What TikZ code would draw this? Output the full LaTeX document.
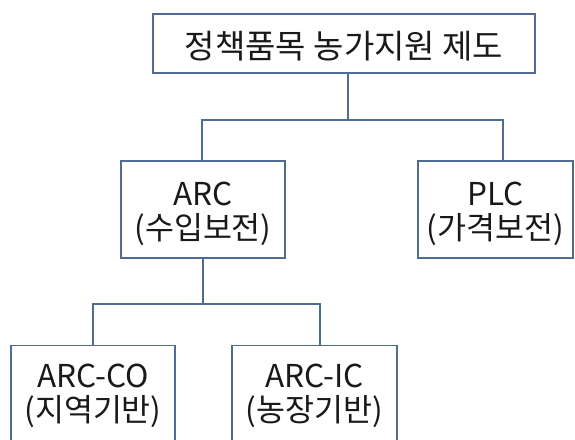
\documentclass[tikz,border=0pt]{standalone}
\usepackage{fontspec}
\setmainfont{Noto Sans CJK KR}
\definecolor{linec}{RGB}{79,108,148}
\begin{document}
\begin{tikzpicture}[x=1pt,y=-1pt,
  box/.style={draw=linec,line width=1.3pt,fill=white,align=center,inner sep=0pt,
    font=\fontsize{31.5}{34}\selectfont,text=black!90},
  lbl/.style={font=\fontsize{31.5}{34}\selectfont,align=center,text=black!90,inner sep=0pt},
  conn/.style={draw=linec,line width=1.3pt}]
\useasboundingbox (0,0) rectangle (575,439);
\clip (0,0) rectangle (575,439);
\node[box,minimum width=382pt,minimum height=59pt] (top) at (344,43.5) {};
\node[lbl,font=\fontsize{33}{36}\selectfont] (topt) at (344,46) {정책품목 농가지원 제도};
\node[box,minimum width=164pt,minimum height=97pt] (arc) at (203,209.5) {};
\node[lbl] (arct) at (203,214) {ARC\\(수입보전)};
\node[box,minimum width=155pt,minimum height=97pt] (plc) at (495.5,209.5) {};
\node[lbl] (plct) at (495.5,214) {PLC\\(가격보전)};
\node[box,minimum width=164pt,minimum height=120pt,anchor=north] (co) at (93,345) {};
\node[box,minimum width=165pt,minimum height=120pt,anchor=north] (ic) at (314.5,345) {};
\node[lbl] (cot) at (93,396) {ARC-CO\\(지역기반)};
\node[lbl] (ict) at (314.5,396) {ARC-IC\\(농장기반)};
\coordinate (j1) at (348,120);
\coordinate (ja) at (202,120);
\coordinate (jp) at (503,120);
\coordinate (j2) at (203,304);
\coordinate (jc) at (93,304);
\coordinate (ji) at (320,304);
\draw[conn] (top.south -| j1) -- (j1);
\draw[conn] (arc.north -| ja) -- (ja) -- (jp) -- (jp |- plc.north);
\draw[conn] (arc.south -| j2) -- (j2);
\draw[conn] (co.north -| jc) -- (jc) -- (ji) -- (ji |- ic.north);
\end{tikzpicture}
\end{document}
